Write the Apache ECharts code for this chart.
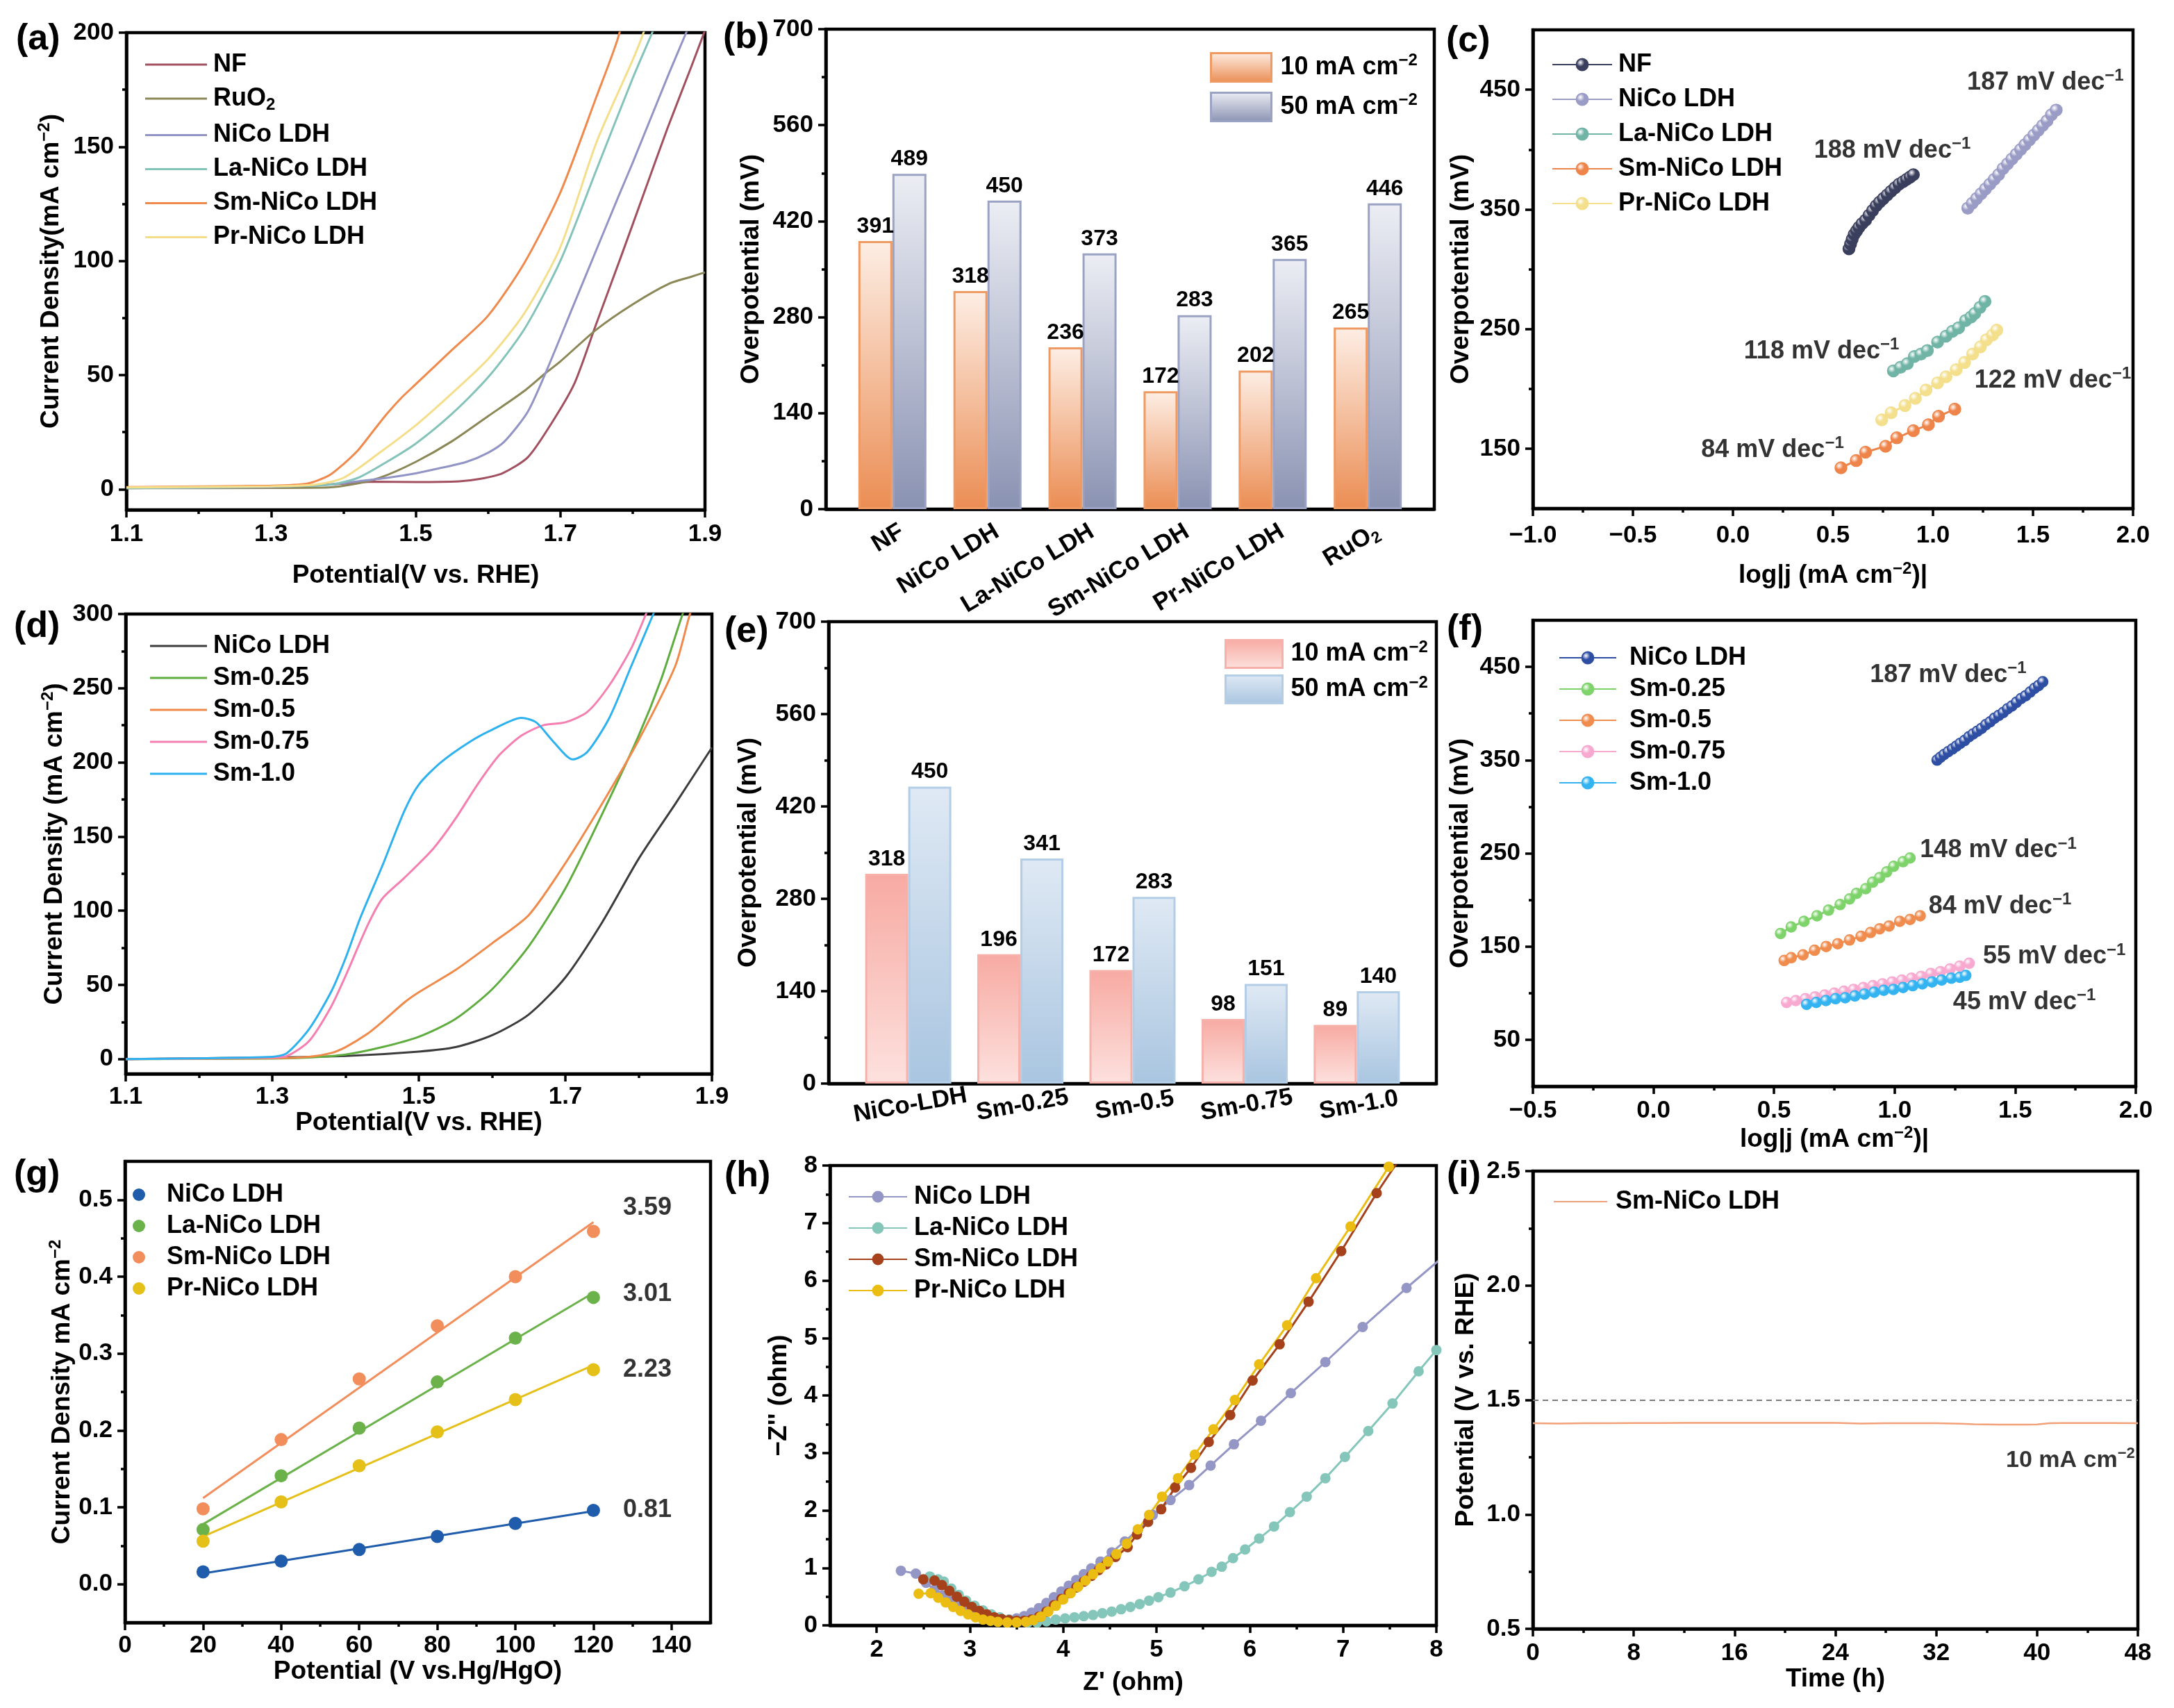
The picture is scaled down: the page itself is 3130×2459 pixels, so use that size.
<!DOCTYPE html>
<html>
<head>
<meta charset="utf-8">
<script src="https://cdn.jsdelivr.net/npm/echarts@6.0.0/dist/echarts.min.js"></script>
<style>
html, body { margin: 0; padding: 0; background: #fff; }
#chart { width: 3130px; height: 2459px; }
</style>
</head>
<body>
<div id="chart"></div>
<script>
// ---------- data ----------
// (a) LSV, [potential V, current mA cm-2]
var lsvA_NF = [[1.10,0.8],[1.30,1.0],[1.40,2.5],[1.44,3.3],[1.50,3.2],[1.56,3.5],[1.59,4.6],[1.62,7],[1.655,14],[1.687,28.5],[1.719,46],[1.748,71],[1.784,102],[1.816,130],[1.848,158],[1.881,185],[1.90,201]];
var lsvA_RuO2 = [[1.10,0.5],[1.30,0.6],[1.38,0.8],[1.41,2],[1.45,5],[1.50,12],[1.55,21],[1.60,32],[1.65,43],[1.68,51],[1.70,56],[1.75,70],[1.80,81],[1.85,90],[1.88,93],[1.90,95]];
var lsvA_NiCo = [[1.10,0.5],[1.30,1.0],[1.38,2],[1.42,3.5],[1.46,5],[1.50,7],[1.53,9],[1.57,12],[1.60,16],[1.623,21],[1.655,34],[1.681,52],[1.72,82],[1.75,105],[1.78,128],[1.80,143],[1.85,182],[1.874,200],[1.89,212]];
var lsvA_La = [[1.10,0.5],[1.30,1.2],[1.38,2],[1.42,5],[1.46,12],[1.50,20],[1.55,33],[1.60,49],[1.65,70],[1.70,100],[1.75,140],[1.80,180],[1.827,200],[1.85,218]];
var lsvA_Sm = [[1.10,1.0],[1.30,1.6],[1.35,2.5],[1.38,6],[1.40,11],[1.42,17],[1.44,25],[1.46,33],[1.48,40],[1.50,46],[1.55,61],[1.60,76],[1.65,99],[1.70,130],[1.75,172],[1.78,198],[1.80,225]];
var lsvA_Pr = [[1.10,0.8],[1.30,1.3],[1.36,2],[1.40,5],[1.45,16],[1.50,28],[1.55,42],[1.60,57],[1.65,77],[1.70,106],[1.75,152],[1.80,188],[1.815,200],[1.83,215]];

// (b) overpotentials
var catsB = ['NF', 'NiCo LDH', 'La-NiCo LDH', 'Sm-NiCo LDH', 'Pr-NiCo LDH', 'RuO_{2}'];
var eta10B = [391, 318, 236, 172, 202, 265];
var eta50B = [489, 450, 373, 283, 365, 446];

// (c) Tafel, [log j, overpotential mV]
var tafC_NF = [[0.580,317],[0.588,321],[0.596,325],[0.606,329],[0.618,332],[0.630,335],[0.645,338],[0.663,341],[0.680,345],[0.698,349],[0.716,353],[0.733,356],[0.752,359],[0.771,362],[0.790,365],[0.810,368],[0.830,371],[0.850,373],[0.868,375],[0.886,377],[0.902,379]];
var tafC_NiCo = [[1.174,351],[1.196,355],[1.218,359],[1.240,363],[1.262,367],[1.284,371],[1.306,375],[1.328,379],[1.350,384],[1.372,388],[1.394,392],[1.416,396],[1.438,400],[1.460,404],[1.482,408],[1.504,412],[1.526,416],[1.548,420],[1.570,424],[1.592,429],[1.616,433]];
var tafC_La = [[0.802,215],[0.838,218],[0.872,221],[0.907,227],[0.940,229],[0.972,232],[1.023,239],[1.065,244],[1.097,248],[1.128,251],[1.163,257],[1.190,260],[1.209,263],[1.235,268],[1.260,273]];
var tafC_Sm = [[0.540,134],[0.616,140],[0.663,147],[0.763,152],[0.819,159],[0.902,165],[0.977,170],[1.028,177],[1.109,183]];
var tafC_Pr = [[0.744,174],[0.791,180],[0.860,186],[0.912,192],[0.965,199],[1.023,205],[1.065,210],[1.116,216],[1.158,222],[1.198,229],[1.237,235],[1.267,241],[1.298,245],[1.319,249]];
var slopesC = ['188', '187', '118', '84', '122'];

// (d) LSV of Sm loadings
var lsvD_NiCo = [[1.10,0],[1.30,1],[1.40,2],[1.50,5],[1.55,8],[1.60,16],[1.65,30],[1.70,55],[1.75,92],[1.80,135],[1.85,172],[1.90,210]];
var lsvD_S025 = [[1.10,0],[1.30,0.3],[1.35,1],[1.40,3],[1.45,8],[1.50,15],[1.55,27],[1.60,47],[1.65,76],[1.70,115],[1.75,165],[1.80,218],[1.83,255],[1.86,300],[1.87,312]];
var lsvD_S05 = [[1.10,0],[1.30,0.5],[1.35,1.5],[1.38,4],[1.40,8],[1.43,17],[1.45,25],[1.48,38],[1.50,45],[1.55,60],[1.60,78],[1.65,97],[1.70,132],[1.75,172],[1.80,215],[1.85,265],[1.87,300],[1.88,312]];
var lsvD_S075 = [[1.10,0],[1.30,1],[1.32,2],[1.35,12],[1.38,35],[1.40,56],[1.43,90],[1.45,108],[1.48,122],[1.52,142],[1.55,162],[1.58,185],[1.61,205],[1.64,218],[1.67,225],[1.70,227],[1.73,234],[1.76,252],[1.79,277],[1.81,300],[1.82,312]];
var lsvD_S10 = [[1.10,0],[1.30,1.5],[1.32,4],[1.35,20],[1.38,45],[1.40,68],[1.42,95],[1.45,130],[1.48,167],[1.50,185],[1.53,200],[1.57,214],[1.60,222],[1.64,230],[1.66,227],[1.68,216],[1.70,205],[1.71,202],[1.73,207],[1.76,230],[1.79,265],[1.82,300],[1.83,312]];

// (e) overpotentials of Sm loadings
var catsE = ['NiCo-LDH', 'Sm-0.25', 'Sm-0.5', 'Sm-0.75', 'Sm-1.0'];
var eta10E = [318, 196, 172, 98, 89];
var eta50E = [450, 341, 283, 151, 140];

// (f) Tafel of Sm loadings
var tafF_NiCo = [[1.176,350],[1.190,353],[1.205,356],[1.222,359],[1.240,362],[1.256,365],[1.272,368],[1.290,371],[1.308,375],[1.325,378],[1.343,381],[1.360,384],[1.378,388],[1.396,391],[1.414,395],[1.432,398],[1.450,401],[1.468,405],[1.486,408],[1.505,412],[1.524,416],[1.543,419],[1.562,423],[1.580,427],[1.597,430],[1.614,434]];
var tafF_S025 = [[0.527,164],[0.571,171],[0.624,177],[0.678,183],[0.726,189],[0.774,195],[0.813,201],[0.842,207],[0.880,212],[0.909,219],[0.938,224],[0.967,230],[0.996,236],[1.035,241],[1.064,245]];
var tafF_S05 = [[0.542,135],[0.571,138],[0.620,141],[0.668,146],[0.716,150],[0.764,153],[0.813,157],[0.861,161],[0.900,165],[0.938,169],[0.977,172],[1.021,177],[1.064,179],[1.106,183]];
var tafF_S075 = [[0.552,90],[0.590,92],[0.630,94],[0.670,96],[0.710,98],[0.750,100],[0.790,102],[0.830,104],[0.870,106],[0.910,108],[0.950,110],[0.990,112],[1.030,114],[1.070,116],[1.110,118],[1.150,121],[1.190,123],[1.230,126],[1.270,129],[1.309,132]];
var tafF_S10 = [[0.635,88],[0.675,90],[0.715,92],[0.755,94],[0.795,95],[0.835,97],[0.875,99],[0.915,101],[0.955,103],[0.995,104],[1.035,106],[1.075,108],[1.115,110],[1.155,112],[1.195,114],[1.235,116],[1.270,117],[1.295,119]];
var slopesF = ['187', '148', '84', '55', '45'];

// (g) double-layer capacitance, scan rate vs current density
var cdlX = [20, 40, 60, 80, 100, 120];
var cdlNiCo = [0.016, 0.030, 0.045, 0.062, 0.079, 0.096];
var cdlLa = [0.071, 0.141, 0.203, 0.263, 0.320, 0.373];
var cdlSm = [0.098, 0.188, 0.267, 0.336, 0.400, 0.459];
var cdlPr = [0.056, 0.107, 0.154, 0.198, 0.240, 0.279];
var cdlFitStart = [0.014, 0.078, 0.112, 0.062];
var cdlFitEnd = [0.095, 0.379, 0.471, 0.285];
var cdlSlopes = ['0.81', '3.01', '3.59', '2.23'];

// (h) Nyquist, [Z', -Z'']
var eisNiCo = [[2.26,0.95],[2.42,0.90],[2.53,0.74],[2.62,0.62],[2.70,0.52],[2.78,0.43],[2.86,0.35],[2.94,0.28],[3.02,0.22],[3.10,0.17],[3.18,0.13],[3.26,0.11],[3.34,0.10],[3.42,0.10],[3.50,0.12],[3.58,0.16],[3.66,0.22],[3.74,0.30],[3.82,0.39],[3.90,0.49],[3.98,0.59],[4.06,0.69],[4.14,0.79],[4.22,0.89],[4.30,0.99],[4.40,1.11],[4.52,1.27],[4.66,1.46],[4.80,1.66],[4.96,1.92],[5.15,2.18],[5.35,2.44],[5.58,2.78],[5.83,3.15],[6.12,3.56],[6.44,4.04],[6.81,4.58],[7.21,5.19],[7.68,5.87],[8.10,6.45]];
var eisLa = [[2.57,0.85],[2.66,0.80],[2.72,0.76],[2.80,0.64],[2.88,0.53],[2.96,0.43],[3.05,0.34],[3.14,0.26],[3.23,0.19],[3.32,0.14],[3.42,0.10],[3.52,0.07],[3.62,0.05],[3.72,0.05],[3.82,0.07],[3.92,0.10],[4.02,0.12],[4.12,0.14],[4.22,0.16],[4.32,0.18],[4.42,0.21],[4.52,0.24],[4.62,0.28],[4.72,0.32],[4.82,0.37],[4.92,0.43],[5.02,0.49],[5.15,0.57],[5.30,0.68],[5.45,0.80],[5.59,0.93],[5.70,1.02],[5.82,1.17],[5.95,1.32],[6.10,1.51],[6.26,1.72],[6.43,1.97],[6.61,2.24],[6.81,2.56],[7.02,2.93],[7.27,3.38],[7.53,3.86],[7.81,4.42],[8.00,4.79],[8.10,4.98]];
var eisSm = [[2.50,0.80],[2.62,0.78],[2.70,0.70],[2.78,0.60],[2.86,0.50],[2.94,0.41],[3.02,0.32],[3.10,0.25],[3.18,0.19],[3.26,0.14],[3.34,0.11],[3.42,0.09],[3.50,0.08],[3.58,0.08],[3.66,0.10],[3.74,0.15],[3.82,0.24],[3.90,0.35],[3.98,0.46],[4.06,0.56],[4.14,0.66],[4.22,0.76],[4.30,0.86],[4.38,0.96],[4.46,1.06],[4.56,1.19],[4.69,1.36],[4.79,1.58],[4.91,1.80],[5.05,2.02],[5.20,2.40],[5.37,2.74],[5.56,3.19],[5.79,3.66],[6.03,4.26],[6.32,4.89],[6.63,5.63],[6.98,6.51],[7.36,7.52],[7.62,8.15]];
var eisPr = [[2.45,0.55],[2.58,0.56],[2.66,0.48],[2.74,0.40],[2.82,0.32],[2.90,0.25],[2.98,0.19],[3.06,0.14],[3.14,0.10],[3.22,0.08],[3.30,0.06],[3.40,0.05],[3.50,0.05],[3.60,0.06],[3.68,0.09],[3.76,0.15],[3.84,0.24],[3.92,0.34],[4.00,0.45],[4.08,0.56],[4.16,0.67],[4.24,0.78],[4.32,0.89],[4.40,1.00],[4.48,1.11],[4.57,1.24],[4.68,1.42],[4.80,1.67],[4.92,1.92],[5.06,2.24],[5.23,2.56],[5.41,2.97],[5.61,3.41],[5.84,3.92],[6.10,4.54],[6.40,5.22],[6.71,6.04],[7.08,6.94],[7.49,7.98],[7.56,8.15]];

// (i) chronopotentiometry at 10 mA cm-2
var stabT = [0, 2, 4, 6, 8, 10, 12, 14, 16, 18, 20, 22, 24, 26, 28, 30, 32, 34, 35, 36, 37, 38, 39, 40, 41, 42, 44, 46, 48];
var stabV = [1.398, 1.397, 1.398, 1.398, 1.399, 1.399, 1.400, 1.400, 1.400, 1.400, 1.400, 1.400, 1.400, 1.397, 1.398, 1.398, 1.398, 1.396, 1.394, 1.393, 1.392, 1.392, 1.392, 1.393, 1.398, 1.399, 1.399, 1.399, 1.398];
var stabRef = 1.5;

// tick values
var ticksLsvX = [1.1, 1.3, 1.5, 1.7, 1.9], minorLsvX = [1.2, 1.4, 1.6, 1.8];
var ticksAY = [0, 50, 100, 150, 200], minorAY = [25, 75, 125, 175];
var ticksEta = [0, 140, 280, 420, 560, 700], minorEta = [70, 210, 350, 490, 630];
var ticksCX = [-1, -0.5, 0, 0.5, 1, 1.5, 2], minorCX = [-0.75, -0.25, 0.25, 0.75, 1.25, 1.75];
var ticksCY = [150, 250, 350, 450], minorCY = [200, 300, 400];
var ticksDY = [0, 50, 100, 150, 200, 250, 300], minorDY = [25, 75, 125, 175, 225, 275];
var ticksFX = [-0.5, 0, 0.5, 1, 1.5, 2], minorFX = [-0.25, 0.25, 0.75, 1.25, 1.75];
var ticksFY = [50, 150, 250, 350, 450], minorFY = [100, 200, 300, 400];
var ticksGX = [0, 20, 40, 60, 80, 100, 120, 140], minorGX = [10, 30, 50, 70, 90, 110, 130];
var ticksGY = [0, 0.1, 0.2, 0.3, 0.4, 0.5], minorGY = [0.05, 0.15, 0.25, 0.35, 0.45];
var ticksHX = [2, 3, 4, 5, 6, 7, 8], minorHX = [2.5, 3.5, 4.5, 5.5, 6.5, 7.5];
var ticksHY = [0, 1, 2, 3, 4, 5, 6, 7, 8], minorHY = [0.5, 1.5, 2.5, 3.5, 4.5, 5.5, 6.5, 7.5];
var ticksIX = [0, 8, 16, 24, 32, 40, 48], minorIX = [4, 12, 20, 28, 36, 44];
var ticksIY = [0.5, 1.0, 1.5, 2.0, 2.5], minorIY = [0.75, 1.25, 1.75, 2.25];

// ---------- helpers ----------
var FONT = "'Liberation Sans', Arial, Helvetica, sans-serif";
var LINE_ICON = 'path://M0,0 L100,0 L100,3.4 L0,3.4 Z';
var grids = [], xAxes = [], yAxes = [], series = [], legends = [], titles = [];

function mkRich(fs) {
	var s = Math.round(fs * 0.66);
	return {
		t: { fontSize: fs, lineHeight: Math.round(fs * 1.2), fontFamily: FONT, fontWeight: 'bold', color: '#000' },
		sup: { fontSize: s, lineHeight: s, verticalAlign: 'top', fontFamily: FONT, fontWeight: 'bold', color: '#000' },
		sub: { fontSize: s, lineHeight: s, verticalAlign: 'bottom', fontFamily: FONT, fontWeight: 'bold', color: '#000' }
	};
}
// 'mA cm^{−2}' -> rich string
function rt(s) {
	var out = '', re = /([\^_])\{([^}]*)\}/g, last = 0, m;
	while ((m = re.exec(s))) {
		if (m.index > last) out += '{t|' + s.slice(last, m.index) + '}';
		out += '{' + (m[1] === '^' ? 'sup' : 'sub') + '|' + m[2] + '}';
		last = re.lastIndex;
	}
	if (last < s.length) out += '{t|' + s.slice(last) + '}';
	return out;
}
function fmt1(v) { return v < 0 ? '\u2212' + Math.abs(v).toFixed(1) : v.toFixed(1); }
function fmt0(v) { return String(Math.round(v)); }

function axisPair(dim, gi, o) {
	var list = dim === 'x' ? xAxes : yAxes;
	var pos = dim === 'x' ? 'bottom' : 'left';
	var idx = list.length;
	list.push({
		type: 'value', gridIndex: gi, position: pos, min: o.min, max: o.max,
		name: o.name ? rt(o.name) : '', nameLocation: 'middle', nameGap: o.gap, nameRotate: dim === 'y' ? 90 : 0,
		nameTextStyle: { rich: mkRich(37) },
		axisLine: { show: true, onZero: false, lineStyle: { color: '#000', width: 4.5 } },
		axisTick: { show: o.major.length > 0, inside: false, length: 11, customValues: o.major, lineStyle: { color: '#000', width: 3.5 } },
		axisLabel: {
			show: true, customValues: o.labels || o.major, formatter: o.fmt, margin: o.margin || 18,
			rotate: o.rotate || 0, align: o.align, verticalAlign: o.valign,
			fontSize: 35, fontWeight: 'bold', fontFamily: FONT, color: '#000', rich: mkRich(35)
		},
		splitLine: { show: false }
	});
	list.push({
		type: 'value', gridIndex: gi, position: pos, min: o.min, max: o.max,
		axisLine: { show: false, onZero: false },
		axisTick: { show: (o.minor || []).length > 0, inside: false, length: 6, customValues: o.minor || [], lineStyle: { color: '#000', width: 3.5 } },
		axisLabel: { show: false },
		splitLine: { show: false }
	});
	return idx;
}

function panel(tag, box, xo, yo, titlePos) {
	var gi = grids.length;
	grids.push({ left: box[0], top: box[1], width: box[2], height: box[3], show: true, borderColor: '#000', borderWidth: 4.5, backgroundColor: 'transparent', containLabel: false, outerBoundsMode: 'none' });
	titles.push({ text: '(' + tag + ')', left: titlePos[0], top: titlePos[1], padding: 0, textStyle: { fontSize: 52, fontWeight: 'bold', fontFamily: FONT, color: '#000' } });
	return { x: axisPair('x', gi, xo), y: axisPair('y', gi, yo) };
}

function ball(c) {
	return new echarts.graphic.RadialGradient(0.36, 0.34, 0.62, [
		{ offset: 0, color: '#ffffff' }, { offset: 0.5, color: c }, { offset: 1, color: c }
	]);
}
function lineS(p, name, data, color, opt) {
	opt = opt || {};
	var s = {
		name: name, type: 'line', xAxisIndex: p.x, yAxisIndex: p.y, data: data,
		smooth: opt.smooth || false,
		symbol: opt.size ? 'circle' : 'none', symbolSize: opt.size || 0, showAllSymbol: true,
		lineStyle: { color: color, width: opt.width || 3 },
		itemStyle: opt.size ? { color: opt.ball ? ball(color) : color, borderColor: color, borderWidth: opt.ball ? 1.5 : 0 } : { color: color },
		clip: true, z: 3
	};
	series.push(s);
	return s;
}
function noteS(p, pts, fs) {
	series.push({
		name: 'note' + series.length, type: 'scatter', xAxisIndex: p.x, yAxisIndex: p.y,
		symbolSize: 1, itemStyle: { color: 'rgba(0,0,0,0)' }, silent: true, z: 10,
		data: pts.map(function (q) { return { value: [q[0], q[1]], txt: q[2] }; }),
		label: {
			show: true, position: 'inside', rich: mkRich(fs || 36),
			formatter: function (d) { return rt(d.data.txt); }
		}
	});
}
function barS(p, name, vals, grad, border, w) {
	series.push({
		name: name, type: 'bar', xAxisIndex: p.x, yAxisIndex: p.y, barWidth: w, barGap: '0%',
		data: vals.map(function (v, i) { return [i, v]; }),
		itemStyle: {
			color: new echarts.graphic.LinearGradient(0, 0, 0, 1, [{ offset: 0, color: grad[0] }, { offset: 1, color: grad[1] }]),
			borderColor: border, borderWidth: 3
		},
		label: { show: true, position: 'top', distance: 5, fontSize: 32, fontWeight: 'bold', fontFamily: FONT, color: '#000', formatter: function (d) { return d.value[1]; } }
	});
}
function addLegend(names, o) {
	var lg = {
		data: names, orient: 'vertical', left: o.left, top: o.top, padding: 0,
		itemWidth: o.w, itemHeight: o.h || 20, itemGap: o.gap, selectedMode: false,
		formatter: function (n) { return rt(n.split('|').slice(1).join('|')); },
		textStyle: { padding: [0, 0, 0, o.pad || 0], rich: mkRich(36) }
	};
	if (o.icon) lg.icon = o.icon;
	if (o.itemStyle) lg.itemStyle = o.itemStyle;
	legends.push(lg);
}

// ---------- (a) ----------
var pa = panel('a', [182, 47, 833, 687],
	{ min: 1.1, max: 1.9, major: ticksLsvX, minor: minorLsvX, fmt: fmt1, name: 'Potential(V vs. RHE)', gap: 73, margin: 18 },
	{ min: -9, max: 200, major: ticksAY, minor: minorAY, fmt: fmt0, name: 'Current Density(mA cm^{\u22122})', gap: 86 },
	[23, 31]);
var namesA = ['a|NF', 'a|RuO_{2}', 'a|NiCo LDH', 'a|La-NiCo LDH', 'a|Sm-NiCo LDH', 'a|Pr-NiCo LDH'];
var colorsA = ['#a2505f', '#8b8757', '#9294c6', '#84c3b9', '#f0894c', '#f5de8a'];
[lsvA_NF, lsvA_RuO2, lsvA_NiCo, lsvA_La, lsvA_Sm, lsvA_Pr].forEach(function (d, i) {
	lineS(pa, namesA[i], d, colorsA[i], { smooth: 0.25 });
});
addLegend(namesA, { left: 209, top: 75, w: 89, pad: 4, gap: 13, icon: LINE_ICON });

// ---------- (b) ----------
var pb = panel('b', [1189, 42, 876, 691],
	{ min: -0.7, max: 5.7, major: [], labels: [0.1, 1.1, 2.1, 3.1, 4.1, 5.1], rotate: 31, margin: 30,
	  fmt: function (v) { return rt(catsB[Math.round(v)]); } },
	{ min: 0, max: 700, major: ticksEta, minor: minorEta, fmt: fmt0, name: 'Overpotential (mV)', gap: 85 },
	[1041, 29]);
barS(pb, 'b|10 mA cm^{\u22122}', eta10B, ['#fdeee5', '#eb8d53'], '#ef9a63', 49);
barS(pb, 'b|50 mA cm^{\u22122}', eta50B, ['#eceef4', '#8a92b2'], '#9ba3c4', 49);
addLegend(['b|10 mA cm^{\u22122}', 'b|50 mA cm^{\u22122}'], { left: 1742, top: 75, w: 87, h: 41, pad: 8, gap: 13, icon: 'rect', itemStyle: { borderWidth: 3 } });

// ---------- (c) ----------
var pc = panel('c', [2207, 43, 864, 689],
	{ min: -1, max: 2, major: ticksCX, minor: minorCX, fmt: fmt1, name: 'log|j (mA cm^{\u22122})|', gap: 75, margin: 22 },
	{ min: 100, max: 500, major: ticksCY, minor: minorCY, fmt: fmt0, name: 'Overpotential (mV)', gap: 81 },
	[2082, 34]);
var namesC = ['c|NF', 'c|NiCo LDH', 'c|La-NiCo LDH', 'c|Sm-NiCo LDH', 'c|Pr-NiCo LDH'];
var colorsC = ['#3b3f5e', '#9a9cc6', '#70b4a6', '#ee844a', '#f3df8c'];
[tafC_NF, tafC_NiCo, tafC_La, tafC_Sm, tafC_Pr].forEach(function (d, i) {
	lineS(pc, namesC[i], d, colorsC[i], { size: 17, ball: true });
});
noteS(pc, [
	[0.797, 399, slopesC[0] + ' mV dec^{\u22121}'],
	[1.562, 456, slopesC[1] + ' mV dec^{\u22121}'],
	[0.443, 231, slopesC[2] + ' mV dec^{\u22121}'],
	[0.198, 149, slopesC[3] + ' mV dec^{\u22121}'],
	[1.599, 207, slopesC[4] + ' mV dec^{\u22121}']
]);
addLegend(namesC, { left: 2234, top: 75, w: 86, h: 21, pad: 4, gap: 14 });

// ---------- (d) ----------
var pd = panel('d', [181, 884, 844, 662],
	{ min: 1.1, max: 1.9, major: ticksLsvX, minor: minorLsvX, fmt: fmt1, name: 'Potential(V vs. RHE)', gap: 49, margin: 16 },
	{ min: -10, max: 300, major: ticksDY, minor: minorDY, fmt: fmt0, name: 'Current Density (mA cm^{\u22122})', gap: 80 },
	[20, 877]);
var namesD = ['d|NiCo LDH', 'd|Sm-0.25', 'd|Sm-0.5', 'd|Sm-0.75', 'd|Sm-1.0'];
var colorsD = ['#3c3c3c', '#5fac3f', '#f08a4b', '#f47fb0', '#2db2ef'];
[lsvD_NiCo, lsvD_S025, lsvD_S05, lsvD_S075, lsvD_S10].forEach(function (d, i) {
	lineS(pd, namesD[i], d, colorsD[i], { smooth: 0.25 });
});
addLegend(namesD, { left: 216, top: 912, w: 82, pad: 4, gap: 10, icon: LINE_ICON });

// ---------- (e) ----------
var pe = panel('e', [1193, 895, 875, 665],
	{ min: -0.71, max: 4.71, major: [], labels: [0, 1, 2, 3, 4], rotate: 10, align: 'center', valign: 'top', margin: 14,
	  fmt: function (v) { return catsE[Math.round(v)]; } },
	{ min: 0, max: 700, major: ticksEta, minor: minorEta, fmt: fmt0, name: 'Overpotential (mV)', gap: 93 },
	[1043, 884]);
barS(pe, 'e|10 mA cm^{\u22122}', eta10E, ['#f7aaa2', '#fde1de'], '#f6b1aa', 62);
barS(pe, 'e|50 mA cm^{\u22122}', eta50E, ['#dfe9f4', '#a9c5e0'], '#b3cde7', 62);
addLegend(['e|10 mA cm^{\u22122}', 'e|50 mA cm^{\u22122}'], { left: 1763, top: 920, w: 82, h: 40, pad: 7, gap: 8, icon: 'rect', itemStyle: { borderWidth: 3 } });

// ---------- (f) ----------
var pf = panel('f', [2207, 893, 868, 671],
	{ min: -0.5, max: 2, major: ticksFX, minor: minorFX, fmt: fmt1, name: 'log|j (mA cm^{\u22122})|', gap: 55, margin: 18 },
	{ min: 0, max: 500, major: ticksFY, minor: minorFY, fmt: fmt0, name: 'Overpotential (mV)', gap: 82 },
	[2083, 881]);
var namesF = ['f|NiCo LDH', 'f|Sm-0.25', 'f|Sm-0.5', 'f|Sm-0.75', 'f|Sm-1.0'];
var colorsF = ['#2d4ea3', '#7ed36b', '#ef8c4e', '#f8a9d0', '#34b3f1'];
[tafF_NiCo, tafF_S025, tafF_S05, tafF_S075, tafF_S10].forEach(function (d, i) {
	lineS(pf, namesF[i], d, colorsF[i], { size: 15, ball: true });
});
noteS(pf, [
	[1.222, 441, slopesF[0] + ' mV dec^{\u22121}'],
	[1.430, 253, slopesF[1] + ' mV dec^{\u22121}'],
	[1.437, 193, slopesF[2] + ' mV dec^{\u22121}'],
	[1.662, 139, slopesF[3] + ' mV dec^{\u22121}'],
	[1.538, 90, slopesF[4] + ' mV dec^{\u22121}']
]);
addLegend(namesF, { left: 2244, top: 929, w: 82, h: 21, pad: 14, gap: 9 });

// ---------- (g) ----------
var pg = panel('g', [180, 1672, 843, 664],
	{ min: 0, max: 150, major: ticksGX, minor: minorGX, fmt: fmt0, name: 'Potential (V vs.Hg/HgO)', gap: 47, margin: 16 },
	{ min: -0.05, max: 0.55, major: ticksGY, minor: minorGY, fmt: fmt1, name: 'Current Density mA cm^{\u22122}', gap: 68 },
	[20, 1666]);
var namesG = ['g|NiCo LDH', 'g|La-NiCo LDH', 'g|Sm-NiCo LDH', 'g|Pr-NiCo LDH'];
var colorsG = ['#1f5cab', '#6cb24b', '#f28d5c', '#e5c019'];
[cdlNiCo, cdlLa, cdlSm, cdlPr].forEach(function (d, i) {
	series.push({
		name: 'fit' + i, type: 'line', xAxisIndex: pg.x, yAxisIndex: pg.y, symbol: 'none', z: 2,
		data: [[cdlX[0], cdlFitStart[i]], [cdlX[cdlX.length - 1], cdlFitEnd[i]]],
		lineStyle: { color: colorsG[i], width: 3 }
	});
	series.push({
		name: namesG[i], type: 'scatter', xAxisIndex: pg.x, yAxisIndex: pg.y, symbolSize: 19, z: 3,
		data: d.map(function (v, k) { return [cdlX[k], v]; }),
		itemStyle: { color: colorsG[i], opacity: 1 }
	});
});
noteS(pg, [
	[133.8, 0.096, cdlSlopes[0]], [133.8, 0.377, cdlSlopes[1]],
	[133.8, 0.489, cdlSlopes[2]], [133.8, 0.279, cdlSlopes[3]]
]);
addLegend(namesG, { left: 191, top: 1702, w: 70, h: 18, gap: 9, icon: 'circle' });

// ---------- (h) ----------
var ph = panel('h', [1195, 1678, 873, 662],
	{ min: 1.5, max: 8, major: ticksHX, minor: minorHX, fmt: fmt0, name: "Z' (ohm)", gap: 61, margin: 18 },
	{ min: 0, max: 8, major: ticksHY, minor: minorHY, fmt: fmt0, name: "\u2212Z'' (ohm)", gap: 51 },
	[1043, 1668]);
var namesH = ['h|NiCo LDH', 'h|La-NiCo LDH', 'h|Sm-NiCo LDH', 'h|Pr-NiCo LDH'];
var colorsH = ['#9496c5', '#85c6ba', '#a5421b', '#ebbd12'];
[eisNiCo, eisLa, eisSm, eisPr].forEach(function (d, i) {
	lineS(ph, namesH[i], d, colorsH[i], { size: 15 });
});
addLegend(namesH, { left: 1221, top: 1705, w: 84, h: 21, pad: 5, gap: 9 });

// ---------- (i) ----------
var pi = panel('i', [2207, 1686, 871, 659],
	{ min: 0, max: 48, major: ticksIX, minor: minorIX, fmt: fmt0, name: 'Time (h)', gap: 48, margin: 18 },
	{ min: 0.5, max: 2.5, major: ticksIY, minor: minorIY, fmt: fmt1, name: 'Potential (V vs. RHE)', gap: 74 },
	[2083, 1668]);
var sI = lineS(pi, 'i|Sm-NiCo LDH', stabT.map(function (t, k) { return [t, stabV[k]]; }), '#f2a077', { width: 2.5 });
sI.markLine = {
	silent: true, symbol: 'none', label: { show: false },
	lineStyle: { color: '#7a7a7a', type: [8, 6], width: 2 },
	data: [{ yAxis: stabRef }]
};
noteS(pi, [[42.65, 1.237, '10 mA cm^{\u22122}']], 34);
addLegend(['i|Sm-NiCo LDH'], { left: 2237, top: 1712, w: 77, pad: 7, gap: 2, icon: 'path://M0,0 L100,0 L100,2.6 L0,2.6 Z' });

// ---------- render ----------
var chart = echarts.init(document.getElementById('chart'), null, { renderer: 'canvas', width: 3130, height: 2459 });
chart.setOption({
	animation: false,
	backgroundColor: '#fff',
	textStyle: { fontFamily: FONT },
	title: titles,
	grid: grids,
	xAxis: xAxes,
	yAxis: yAxes,
	legend: legends,
	series: series
});
</script>
</body>
</html>
